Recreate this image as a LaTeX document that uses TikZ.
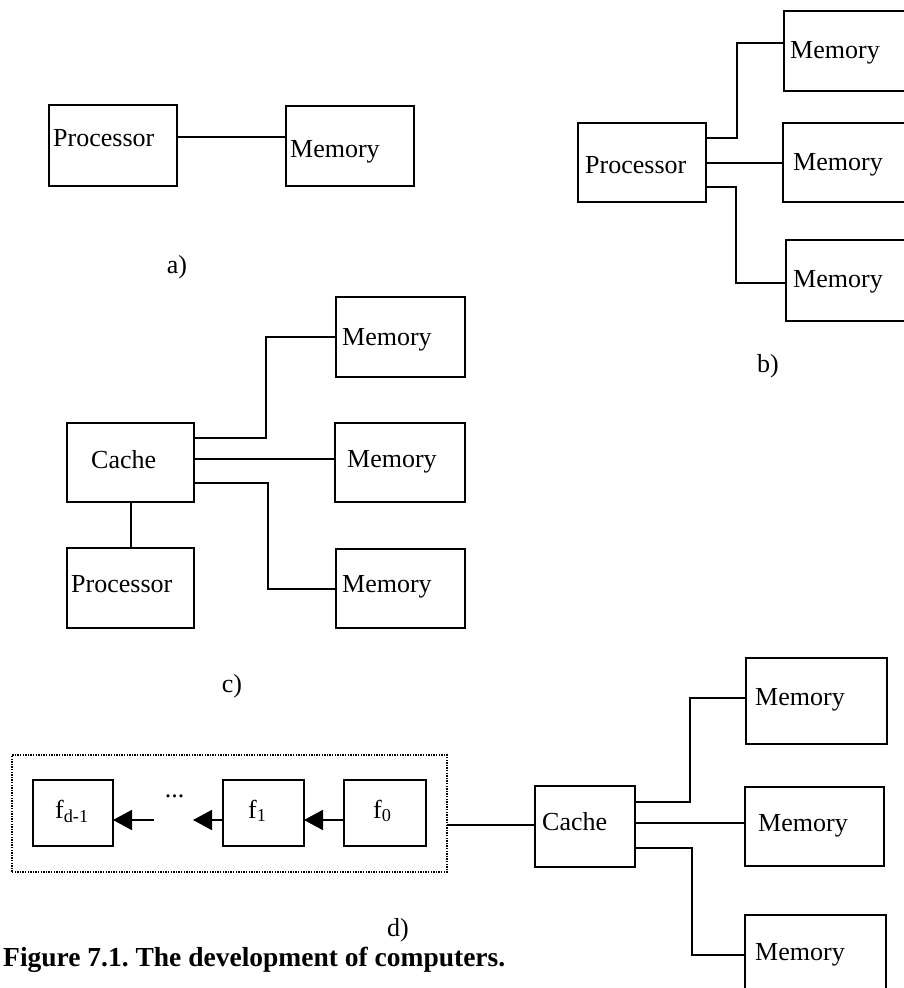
\documentclass[tikz,border=0pt]{standalone}
\usepackage{fontspec}
\setmainfont{Liberation Serif}
\usetikzlibrary{arrows.meta}
\frenchspacing
\begin{document}
\begin{tikzpicture}[x=1pt,y=-1pt,
  box/.style={draw, line width=2.1pt, inner sep=0pt, outer sep=0pt, minimum width=#1},
  box/.default=128,
  lbl/.style={anchor=base west, inner sep=0pt, font=\fontsize{26}{30}\selectfont},
  tag/.style={anchor=base, inner sep=0pt, font=\fontsize{26}{30}\selectfont},
  wire/.style={line width=2pt},
  flow/.style={line width=2pt, -{Triangle[length=19pt,width=20pt]}},
  group/.style={draw, line width=1.6pt, dash pattern=on 1.4pt off 1.2pt, inner sep=0pt, outer sep=0pt}
]
\useasboundingbox (0,0) rectangle (904,988);
\clip (0,0) rectangle (904,988);

% ---------- a) processor and memory ----------
\node[box=128, minimum height=81] (pa) at (113,145.5) {};
\node[box=128, minimum height=80] (ma) at (350,146) {};
\node[lbl] (pat) at (53,146) {Processor};
\node[lbl] (mat) at (290,157) {Memory};
\draw[wire] (pa.east |- 0,137) -- (ma.west |- 0,137);
\node[tag] (taga) at (177,273) {a)};

% ---------- b) processor with three memories ----------
\node[box=128, minimum height=79] (pb) at (642,162.5) {};
\node[box=146, minimum height=80] (mb1) at (857,51) {};
\node[box=147, minimum height=79] (mb2) at (856.5,162.5) {};
\node[box=144, minimum height=81] (mb3) at (858,280.5) {};
\node[lbl] (pbt) at (585,173) {Processor};
\node[lbl] (mb1t) at (790,58) {Memory};
\node[lbl] (mb2t) at (793,170) {Memory};
\node[lbl] (mb3t) at (793,287) {Memory};
\draw[wire] (pb.east |- 0,138) -| (737,43) -- (mb1.west |- 0,43);
\draw[wire] (pb.east |- 0,163) -- (mb2.west |- 0,163);
\draw[wire] (pb.east |- 0,187) -| (736,283) -- (mb3.west |- 0,283);
\node[tag] (tagb) at (768,372) {b)};

% ---------- c) processor, cache and three memories ----------
\node[box=127, minimum height=79] (cc) at (130.5,462.5) {};
\node[box=127, minimum height=80] (pc) at (130.5,588) {};
\node[box=129, minimum height=80] (mc1) at (400.5,337) {};
\node[box=130, minimum height=79] (mc2) at (400,462.5) {};
\node[box=129, minimum height=79] (mc3) at (400.5,588.5) {};
\node[lbl] (cct) at (91,468) {Cache};
\node[lbl] (pct) at (71,592) {Processor};
\node[lbl] (mc1t) at (342,345) {Memory};
\node[lbl] (mc2t) at (347,467) {Memory};
\node[lbl] (mc3t) at (342,592) {Memory};
\draw[wire] (cc.east |- 0,438) -| (266,337) -- (mc1.west |- 0,337);
\draw[wire] (cc.east |- 0,459) -- (mc2.west |- 0,459);
\draw[wire] (cc.east |- 0,483) -| (268,589) -- (mc3.west |- 0,589);
\draw[wire] (cc.south) -- (pc.north);
\node[tag] (tagc) at (232,692) {c)};

% ---------- d) pipeline of stages, cache and three memories ----------
\node[group, minimum width=435, minimum height=117] (grp) at (229.5,813.5) {};
\node[box=80, minimum height=66] (fd) at (73,813) {};
\node[box=81, minimum height=66] (f1) at (263.5,813) {};
\node[box=82, minimum height=66] (f0) at (385,813) {};
\node[lbl] (fdt) at (55,818) {f\textsubscript{d-1}};
\node[lbl] (f1t) at (248,818) {f\textsubscript{1}};
\node[lbl] (f0t) at (373,818) {f\textsubscript{0}};
\node[tag] (dots) at (174.5,797) {...};
\coordinate (gapR) at (193,820);
\coordinate (gapL) at (154,820);
\draw[flow] (f0.west |- 0,820) -- (f1.east |- 0,820);
\draw[flow] (f1.west |- 0,820) -- (gapR);
\draw[flow] (gapL) -- (fd.east |- 0,820);

\node[box=100, minimum height=81] (cd) at (585,826.5) {};
\node[box=141, minimum height=86] (md1) at (816.5,701) {};
\node[box=139, minimum height=79] (md2) at (814.5,826.5) {};
\node[box=141, minimum height=95] (md3) at (815.5,962.5) {};
\node[lbl] (cdt) at (542,830) {Cache};
\node[lbl] (md1t) at (755,705) {Memory};
\node[lbl] (md2t) at (758,831) {Memory};
\node[lbl] (md3t) at (755,960) {Memory};
\draw[wire] (grp.east |- 0,825) -- (cd.west |- 0,825);
\draw[wire] (cd.east |- 0,802) -| (690,698) -- (md1.west |- 0,698);
\draw[wire] (cd.east |- 0,823) -- (md2.west |- 0,823);
\draw[wire] (cd.east |- 0,848) -| (692,955) -- (md3.west |- 0,955);
\node[tag] (tagd) at (398,936) {d)};

% ---------- caption ----------
\node[anchor=base west, inner sep=0pt, font=\fontsize{27.5}{32}\selectfont\bfseries] (cap) at (3,966) {Figure 7.1. The development of computers.};
\end{tikzpicture}
\end{document}
